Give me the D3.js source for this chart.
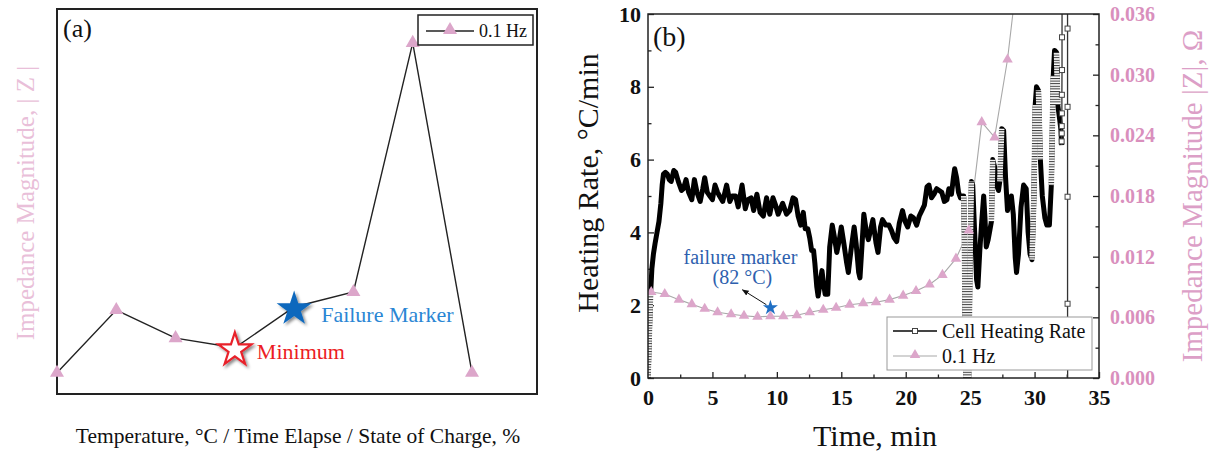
<!DOCTYPE html>
<html>
<head>
<meta charset="utf-8">
<script src="https://cdn.jsdelivr.net/npm/d3@7"></script>
<style>
  html, body { margin: 0; padding: 0; background: #fff; }
  svg { display: block; }
  #chart text { font-family: "Liberation Serif", "Times New Roman", serif; }
</style>
</head>
<body>
<svg id="chart" width="1209" height="452"></svg>
<script>
// ---- panel (a): schematic impedance trend (arbitrary units) ----
const trendSteps = [0, 1, 2, 3, 4, 5, 6, 7];
const trendImpedance = [5.5, 21.8, 14.5, 12.0, 22.6, 26.5, 91.2, 5.5];
const minimumIndex = 3;
const failureIndex = 4;

// ---- panel (b): cell heating rate (°C/min) vs time (min) ----
const heatingRate = [
  [0.00, 0.0], [0.05, 0.5], [0.12, 1.4], [0.20, 2.3], [0.30, 3.0], [0.42, 3.4],
  [0.55, 3.7], [0.70, 4.0], [0.85, 4.3], [1.00, 4.8], [1.10, 5.3], [1.20, 5.6],
  [1.35, 5.65], [1.50, 5.6], [1.65, 5.45], [1.80, 5.4], [2.00, 5.7], [2.15, 5.65],
  [2.35, 5.4], [2.60, 5.15], [2.75, 5.2], [2.95, 5.45], [3.15, 5.1], [3.40, 4.9],
  [3.60, 5.45], [3.80, 5.1], [4.05, 4.85], [4.25, 5.2], [4.40, 5.5], [4.60, 5.1],
  [4.80, 5.0], [5.00, 4.9], [5.20, 5.3], [5.40, 5.1], [5.55, 5.0], [5.80, 4.85],
  [6.10, 5.3], [6.35, 4.85], [6.55, 5.0], [6.80, 5.0], [7.00, 4.7], [7.30, 5.3],
  [7.55, 4.65], [7.75, 4.9], [8.00, 4.95], [8.20, 4.6], [8.45, 5.05], [8.70, 4.55],
  [8.95, 4.45], [9.20, 4.95], [9.45, 4.5], [9.70, 4.95], [9.90, 4.75], [10.10, 4.5],
  [10.45, 4.8], [10.75, 4.5], [11.00, 4.6], [11.25, 4.95], [11.45, 4.9], [11.65, 4.45],
  [11.85, 4.2], [12.05, 4.55], [12.20, 4.1], [12.40, 4.1], [12.55, 3.85], [12.70, 3.5],
  [12.85, 3.5], [12.95, 3.15], [13.10, 2.5], [13.20, 2.25], [13.35, 2.6], [13.50, 2.95],
  [13.62, 2.6], [13.75, 2.3], [13.95, 2.3], [14.10, 3.6], [14.30, 4.2], [14.45, 3.9],
  [14.65, 3.45], [14.85, 3.8], [15.00, 4.15], [15.20, 3.7], [15.40, 3.2], [15.55, 2.9],
  [15.75, 3.5], [16.00, 4.15], [16.15, 3.7], [16.35, 2.9], [16.45, 2.75], [16.60, 3.6],
  [16.75, 4.5], [16.95, 4.0], [17.10, 3.8], [17.30, 4.1], [17.45, 4.35], [17.70, 3.7],
  [17.85, 3.45], [18.05, 4.15], [18.20, 4.35], [18.45, 4.2], [18.70, 4.2], [18.90, 4.05],
  [19.10, 3.85], [19.30, 3.75], [19.50, 4.25], [19.75, 4.6], [19.95, 4.3], [20.15, 4.15],
  [20.40, 4.45], [20.60, 4.4], [20.85, 4.2], [21.05, 4.45], [21.25, 4.6], [21.45, 4.75],
  [21.65, 5.25], [21.80, 5.3], [22.00, 4.95], [22.20, 5.05], [22.40, 5.2], [22.60, 5.15],
  [22.80, 5.1], [23.00, 4.85], [23.20, 4.9], [23.35, 5.2], [23.55, 5.05], [23.70, 5.5],
  [23.80, 5.75], [23.95, 5.5], [24.10, 5.1], [24.25, 4.95], [24.40, 5.0], [24.50, 5.0],
  [24.55, 4.0], [24.62, 1.0], [24.70, -0.5], [24.85, -0.5], [24.92, 1.0], [25.00, 3.5],
  [25.10, 5.4], [25.20, 5.3], [25.35, 4.0], [25.50, 2.7], [25.60, 2.5], [25.75, 3.5],
  [25.90, 4.3], [26.05, 5.0], [26.15, 4.4], [26.25, 3.6], [26.40, 3.8], [26.55, 4.1],
  [26.65, 4.3], [26.75, 6.0], [26.90, 5.8], [27.05, 5.3], [27.20, 5.15], [27.30, 5.4],
  [27.45, 6.85], [27.60, 6.8], [27.75, 5.5], [27.90, 4.6], [28.05, 4.9], [28.20, 5.0],
  [28.35, 4.5], [28.50, 3.3], [28.60, 2.9], [28.75, 3.4], [28.95, 4.7], [29.15, 5.3],
  [29.35, 5.2], [29.50, 4.0], [29.65, 3.4], [29.80, 3.25], [29.95, 5.0], [30.05, 7.5],
  [30.15, 8.0], [30.30, 7.9], [30.45, 6.0], [30.60, 5.0], [30.80, 4.4], [30.95, 4.2],
  [31.15, 4.2], [31.30, 5.3], [31.45, 8.3], [31.55, 9.0], [31.70, 8.95], [31.80, 7.5],
  [31.95, 7.1], [32.05, 6.8], [32.10, 6.4]
];
// sparse readings at the end of the run (off-scale excursion, then collapse)
const heatingTail = [
  [32.10, 6.4], [32.10, 6.5], [32.11, 6.72], [32.11, 6.92], [32.12, 7.27], [32.12, 7.78],
  [32.13, 8.46], [32.13, 9.36], [32.14, 12.0], [32.55, 12.0], [32.56, 9.6], [32.56, 7.45],
  [32.56, 4.98], [32.56, 2.04], [32.57, -1.0]
];

// ---- panel (b): impedance magnitude at 0.1 Hz (Ω) ----
const eisTime = [0.25, 1.3, 2.4, 3.4, 4.4, 5.4, 6.45, 7.45, 8.5, 9.5, 10.5, 11.55, 12.55,
  13.6, 14.6, 15.65, 16.7, 17.7, 18.75, 19.8, 20.8, 21.85, 22.85, 23.9, 24.9, 25.9, 26.9,
  27.9, 28.95];
const eisImpedance = [0.0085, 0.0083, 0.00775, 0.0073, 0.00685, 0.0065, 0.0063, 0.00615,
  0.00605, 0.0061, 0.0061, 0.0062, 0.0065, 0.00675, 0.00695, 0.00725, 0.0074, 0.0075,
  0.00775, 0.00815, 0.0086, 0.00925, 0.0102, 0.0118, 0.0146, 0.0253, 0.0238, 0.0315, 0.043];

const failureMarker = { time: 9.5, rate: 1.93 };

const rateTicks = [0, 2, 4, 6, 8, 10];
const rateMinor = [1, 3, 5, 7, 9];
const timeTicks = [0, 5, 10, 15, 20, 25, 30, 35];
const timeMinor = [2.5, 7.5, 12.5, 17.5, 22.5, 27.5, 32.5];
const impedanceTicks = [0, 0.006, 0.012, 0.018, 0.024, 0.030, 0.036];
const impedanceMinor = [0.003, 0.009, 0.015, 0.021, 0.027, 0.033];

const pink = "#dca6ca";
const pinkText = "#d98fbd";

const svg = d3.select("#chart");
const defs = svg.append("defs");
defs.append("filter")
    .attr("id", "shadow")
    .attr("x", "-50%").attr("y", "-50%")
    .attr("width", "200%").attr("height", "200%")
  .append("feDropShadow")
    .attr("dx", 2).attr("dy", 2)
    .attr("stdDeviation", 1.6)
    .attr("flood-color", "#000")
    .attr("flood-opacity", 0.45);

// stacked open squares on fast-changing stretches read as a grey hatch
const hatch = defs.append("pattern")
    .attr("id", "hatch")
    .attr("patternUnits", "userSpaceOnUse")
    .attr("width", 6).attr("height", 2.6);
hatch.append("rect").attr("width", 6).attr("height", 2.6).attr("fill", "#fff");
hatch.append("rect").attr("width", 6).attr("height", 1).attr("fill", "#333");

// ================= panel (a) =================
const A = { left: 57, right: 537, top: 9, bottom: 394 };
const xA = d3.scaleLinear().domain([0, 7]).range([57, 472]);
const yA = d3.scaleLinear().domain([0, 100]).range([A.bottom, A.top]);

const gA = svg.append("g");

gA.append("rect")
    .attr("x", A.left).attr("y", A.top)
    .attr("width", A.right - A.left).attr("height", A.bottom - A.top)
    .attr("fill", "none").attr("stroke", "#222").attr("stroke-width", 2);

gA.append("path")
    .datum(trendSteps)
    .attr("d", d3.line().x(i => xA(i)).y(i => yA(trendImpedance[i])))
    .attr("fill", "none").attr("stroke", "#222").attr("stroke-width", 1.4);

gA.selectAll(".tri")
    .data(trendSteps.filter(i => i !== minimumIndex && i !== failureIndex))
    .enter().append("path")
    .attr("class", "tri")
    .attr("d", d3.symbol(d3.symbolTriangle, 85))
    .attr("transform", i => `translate(${xA(i)},${yA(trendImpedance[i])})`)
    .attr("fill", pink);

// minimum: open red star
gA.append("path")
    .attr("d", d3.symbol(d3.symbolStar, 340))
    .attr("transform", `translate(${xA(minimumIndex)},${yA(trendImpedance[minimumIndex]) + 2})`)
    .attr("fill", "#fff").attr("stroke", "#e8202a").attr("stroke-width", 2.2)
    .attr("filter", "url(#shadow)");

// failure marker: filled blue star
gA.append("path")
    .attr("d", d3.symbol(d3.symbolStar, 380))
    .attr("transform", `translate(${xA(failureIndex)},${yA(trendImpedance[failureIndex]) + 2})`)
    .attr("fill", "#0b68bd")
    .attr("filter", "url(#shadow)");

gA.append("text")
    .attr("x", xA(minimumIndex) + 22).attr("y", yA(trendImpedance[minimumIndex]) + 11)
    .attr("fill", "#ec1c24").attr("font-size", 22)
    .text("Minimum");

gA.append("text")
    .attr("x", xA(failureIndex) + 27).attr("y", yA(trendImpedance[failureIndex]) + 15)
    .attr("fill", "#2a86d4").attr("font-size", 22)
    .text("Failure Marker");

gA.append("text")
    .attr("x", 63).attr("y", 37)
    .attr("font-size", 26).attr("fill", "#111")
    .text("(a)");

// legend
const legA = gA.append("g");
legA.append("rect")
    .attr("x", 418).attr("y", 15).attr("width", 115).attr("height", 30)
    .attr("fill", "#fff").attr("stroke", "#222").attr("stroke-width", 1.5);
legA.append("line")
    .attr("x1", 426).attr("x2", 474).attr("y1", 31).attr("y2", 31)
    .attr("stroke", "#222").attr("stroke-width", 1.4);
legA.append("path")
    .attr("d", d3.symbol(d3.symbolTriangle, 85))
    .attr("transform", "translate(450,30)")
    .attr("fill", pink);
legA.append("text")
    .attr("x", 479).attr("y", 37)
    .attr("font-size", 18).attr("fill", "#111")
    .text("0.1 Hz");

gA.append("text")
    .attr("transform", "translate(25,203) rotate(-90)")
    .attr("text-anchor", "middle").attr("dominant-baseline", "central")
    .attr("font-size", 25).attr("fill", "#e9bfd9")
    .text("Impedance Magnitude, | Z |");

gA.append("text")
    .attr("x", 298).attr("y", 443)
    .attr("text-anchor", "middle")
    .attr("font-size", 21.5).attr("fill", "#111")
    .text("Temperature, °C / Time Elapse / State of Charge, %");

// ================= panel (b) =================
const B = { left: 648, right: 1099, top: 14, bottom: 378 };
const x = d3.scaleLinear().domain([0, 35]).range([B.left, B.right]);
const yRate = d3.scaleLinear().domain([0, 10]).range([B.bottom, B.top]);
const yZ = d3.scaleLinear().domain([0, 0.036]).range([B.bottom, B.top]);

const gB = svg.append("g");

defs.append("clipPath").attr("id", "clipB")
  .append("rect")
    .attr("x", B.left).attr("y", B.top)
    .attr("width", B.right - B.left).attr("height", B.bottom - B.top);

// axes: ticks point into the plot
function styleAxis(g, color, size, weight) {
  g.select(".domain").remove();
  g.selectAll("line").attr("stroke", "#222").attr("stroke-width", 1.3);
  g.selectAll("text")
      .attr("fill", color)
      .attr("font-size", size)
      .attr("font-weight", weight);
}

gB.append("g")
    .attr("transform", `translate(${B.left},0)`)
    .call(d3.axisLeft(yRate).tickValues(rateTicks).tickSize(-6).tickPadding(7).tickFormat(d3.format("d")))
    .call(g => styleAxis(g, "#111", 22, "bold"));
gB.append("g")
    .attr("transform", `translate(${B.left},0)`)
    .call(d3.axisLeft(yRate).tickValues(rateMinor).tickSize(-3.5).tickFormat(""))
    .call(g => styleAxis(g, "#111", 22, "bold"));

gB.append("g")
    .attr("transform", `translate(0,${B.bottom})`)
    .call(d3.axisBottom(x).tickValues(timeTicks).tickSize(-6).tickPadding(11).tickFormat(d3.format("d")))
    .call(g => styleAxis(g, "#111", 22, "bold"));
gB.append("g")
    .attr("transform", `translate(0,${B.bottom})`)
    .call(d3.axisBottom(x).tickValues(timeMinor).tickSize(-3.5).tickFormat(""))
    .call(g => styleAxis(g, "#111", 22, "bold"));

gB.append("g")
    .attr("transform", `translate(${B.right},0)`)
    .call(d3.axisRight(yZ).tickValues(impedanceTicks).tickSize(-6).tickPadding(11).tickFormat(d3.format(".3f")))
    .call(g => styleAxis(g, pinkText, 20, "bold"));
gB.append("g")
    .attr("transform", `translate(${B.right},0)`)
    .call(d3.axisRight(yZ).tickValues(impedanceMinor).tickSize(-3.5).tickFormat(""))
    .call(g => styleAxis(g, pinkText, 20, "bold"));

const plotB = gB.append("g").attr("clip-path", "url(#clipB)");

// 0.1 Hz impedance, right axis
const eisIdx = d3.range(eisTime.length);
plotB.append("path")
    .datum(eisIdx)
    .attr("d", d3.line().x(i => x(eisTime[i])).y(i => yZ(eisImpedance[i])))
    .attr("fill", "none").attr("stroke", "#a8a8a8").attr("stroke-width", 1.1);

// cell heating rate, left axis
const rateLine = d3.line().x(d => x(d[0])).y(d => yRate(d[1]));
plotB.append("path")
    .datum(heatingRate)
    .attr("d", rateLine)
    .attr("fill", "none").attr("stroke", "#000").attr("stroke-width", 5)
    .attr("stroke-linejoin", "round");

// steep stretches (> 9 °C/min per min) get the hatched look
const steep = d3.pairs(heatingRate)
    .filter(([p, q]) => Math.abs((q[1] - p[1]) / (q[0] - p[0])) > 9);
plotB.selectAll(".steep")
    .data(steep)
    .enter().append("path")
    .attr("class", "steep")
    .attr("d", d => rateLine(d))
    .attr("fill", "none").attr("stroke", "url(#hatch)").attr("stroke-width", 5.5)
    .attr("stroke-linecap", "butt");

plotB.append("path")
    .datum(heatingTail)
    .attr("d", rateLine)
    .attr("fill", "none").attr("stroke", "#333").attr("stroke-width", 1.3);

plotB.selectAll(".sq")
    .data(heatingTail.slice(1))
    .enter().append("rect")
    .attr("class", "sq")
    .attr("x", d => x(d[0]) - 2.5).attr("y", d => yRate(d[1]) - 2.5)
    .attr("width", 5).attr("height", 5)
    .attr("fill", "#fff").attr("stroke", "#444").attr("stroke-width", 1);

plotB.selectAll(".eis")
    .data(eisIdx)
    .enter().append("path")
    .attr("class", "eis")
    .attr("d", d3.symbol(d3.symbolTriangle, 48))
    .attr("transform", i => `translate(${x(eisTime[i])},${yZ(eisImpedance[i])})`)
    .attr("fill", pink);

// failure marker annotation
const fx = x(failureMarker.time), fy = yRate(failureMarker.rate);
defs.append("marker")
    .attr("id", "arrow").attr("viewBox", "0 0 10 10")
    .attr("refX", 9).attr("refY", 5)
    .attr("markerWidth", 7).attr("markerHeight", 7)
    .attr("orient", "auto")
  .append("path").attr("d", "M0,1 L10,5 L0,9 Z").attr("fill", "#111");
gB.append("line")
    .attr("x1", fx - 4).attr("y1", fy - 3)
    .attr("x2", fx - 28).attr("y2", fy - 18)
    .attr("stroke", "#111").attr("stroke-width", 1)
    .attr("marker-end", "url(#arrow)");
gB.append("path")
    .attr("d", d3.symbol(d3.symbolStar, 70))
    .attr("transform", `translate(${fx},${fy})`)
    .attr("fill", "#1f6fc4");
gB.append("text")
    .attr("x", fx - 30).attr("y", fy - 44)
    .attr("text-anchor", "middle").attr("font-size", 20).attr("fill", "#2e5fae")
    .text("failure marker");
gB.append("text")
    .attr("x", fx - 28).attr("y", fy - 24)
    .attr("text-anchor", "middle").attr("font-size", 20).attr("fill", "#2e5fae")
    .text("(82 °C)");

// frame
gB.append("rect")
    .attr("x", B.left).attr("y", B.top)
    .attr("width", B.right - B.left).attr("height", B.bottom - B.top)
    .attr("fill", "none").attr("stroke", "#222").attr("stroke-width", 1.5);

// legend
const legB = gB.append("g");
legB.append("rect")
    .attr("x", 887).attr("y", 317).attr("width", 205).attr("height", 53)
    .attr("fill", "#fff").attr("stroke", "#999").attr("stroke-width", 1);
legB.append("line")
    .attr("x1", 893).attr("x2", 937).attr("y1", 331).attr("y2", 331)
    .attr("stroke", "#444").attr("stroke-width", 2);
legB.append("rect")
    .attr("x", 912.5).attr("y", 328.5).attr("width", 5).attr("height", 5)
    .attr("fill", "#fff").attr("stroke", "#444").attr("stroke-width", 1);
legB.append("text")
    .attr("x", 942).attr("y", 338).attr("font-size", 20).attr("fill", "#111")
    .text("Cell Heating Rate");
legB.append("line")
    .attr("x1", 893).attr("x2", 937).attr("y1", 356).attr("y2", 356)
    .attr("stroke", "#a8a8a8").attr("stroke-width", 1.1);
legB.append("path")
    .attr("d", d3.symbol(d3.symbolTriangle, 48))
    .attr("transform", "translate(915,355)")
    .attr("fill", pink);
legB.append("text")
    .attr("x", 942).attr("y", 363).attr("font-size", 20).attr("fill", "#111")
    .text("0.1 Hz");

gB.append("text")
    .attr("x", 653).attr("y", 46)
    .attr("font-size", 28).attr("fill", "#111")
    .text("(b)");

gB.append("text")
    .attr("transform", "translate(587,183) rotate(-90)")
    .attr("text-anchor", "middle").attr("dominant-baseline", "central")
    .attr("font-size", 30).attr("fill", "#111")
    .text("Heating Rate, °C/min");

gB.append("text")
    .attr("transform", "translate(1192,196) rotate(-90)")
    .attr("text-anchor", "middle").attr("dominant-baseline", "central")
    .attr("font-size", 29).attr("fill", "#dc9fc7")
    .text("Impedance Magnitude |Z|, Ω");

gB.append("text")
    .attr("x", 875).attr("y", 446)
    .attr("text-anchor", "middle")
    .attr("font-size", 30).attr("fill", "#111")
    .text("Time, min");
</script>
</body>
</html>
